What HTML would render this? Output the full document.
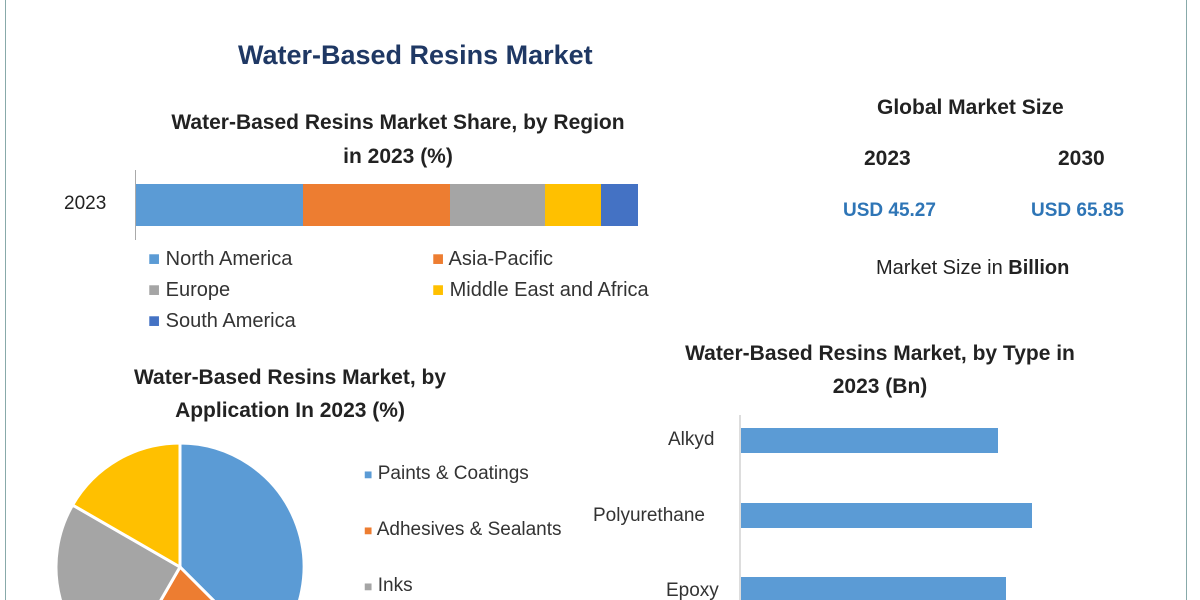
<!DOCTYPE html>
<html><head><meta charset="utf-8"><style>
html,body{margin:0;width:1200px;height:600px;overflow:hidden}
body{background:#fff;font-family:"Liberation Sans",sans-serif;position:relative}
.t{position:absolute;white-space:nowrap}
.b{font-weight:bold}
</style></head><body>
<div style="position:absolute;left:5px;top:0;width:1px;height:600px;background:#8aa"></div>
<div style="position:absolute;left:1186px;top:0;width:1px;height:600px;background:#8aa"></div>
<div class="t b" style="left:238px;top:40px;font-size:27px;color:#1f3864">Water-Based Resins Market</div>
<div class="t b" style="left:98px;top:106px;width:600px;text-align:center;font-size:21px;line-height:34px;color:#222">Water-Based Resins Market Share, by Region<br>in 2023 (%)</div>
<div class="t" style="left:64px;top:193px;font-size:19px;color:#222">2023</div>
<div style="position:absolute;left:135px;top:170px;width:1px;height:70px;background:#aaa"></div>
<div style="position:absolute;top:184px;height:42px;left:136px;width:167px;background:#5b9bd5"></div>
<div style="position:absolute;top:184px;height:42px;left:303px;width:147px;background:#ed7d31"></div>
<div style="position:absolute;top:184px;height:42px;left:450px;width:95px;background:#a5a5a5"></div>
<div style="position:absolute;top:184px;height:42px;left:545px;width:56px;background:#ffc000"></div>
<div style="position:absolute;top:184px;height:42px;left:601px;width:37px;background:#4472c4"></div>
<div class="t" style="left:148px;top:244px;font-size:20px;color:#333;line-height:31px">
<span style="color:#5b9bd5">■</span> North America<br><span style="color:#a5a5a5">■</span> Europe<br><span style="color:#4472c4">■</span> South America</div>
<div class="t" style="left:432px;top:244px;font-size:20px;color:#333;line-height:31px">
<span style="color:#ed7d31">■</span> Asia-Pacific<br><span style="color:#ffc000">■</span> Middle East and Africa</div>
<div class="t b" style="left:877px;top:96px;font-size:21px;color:#222">Global Market Size</div>
<div class="t b" style="left:864px;top:147px;font-size:21px;color:#222">2023</div>
<div class="t b" style="left:1058px;top:147px;font-size:21px;color:#222">2030</div>
<div class="t b" style="left:843px;top:200px;font-size:19px;color:#2e75b6">USD 45.27</div>
<div class="t b" style="left:1031px;top:200px;font-size:19px;color:#2e75b6">USD 65.85</div>
<div class="t" style="left:876px;top:257px;font-size:20px;color:#222">Market Size in <b>Billion</b></div>
<div class="t b" style="left:80px;top:361px;width:420px;text-align:center;font-size:21px;line-height:33px;color:#222">Water-Based Resins Market, by<br>Application In 2023 (%)</div>
<svg style="position:absolute;left:0;top:0" width="1200" height="600">
<g stroke="#fff" stroke-width="3">
<path d="M180,567 L180,443 A124,124 0 0 1 267.7,654.7 Z" fill="#5b9bd5"/>
<path d="M180,567 L267.7,654.7 A124,124 0 0 1 118,674.4 Z" fill="#ed7d31"/>
<path d="M180,567 L118,674.4 A124,124 0 0 1 72.6,505 Z" fill="#a5a5a5"/>
<path d="M180,567 L72.6,505 A124,124 0 0 1 180,443 Z" fill="#ffc000"/>
</g>
<line x1="740" y1="415" x2="740" y2="600" stroke="#bbb"/>
<rect x="741" y="428" width="257" height="25" fill="#5b9bd5"/>
<rect x="741" y="503" width="291" height="25" fill="#5b9bd5"/>
<rect x="741" y="577" width="265" height="25" fill="#5b9bd5"/>
</svg>
<div class="t" style="left:364px;top:460px;font-size:19px;color:#333;line-height:28px"><span style="color:#5b9bd5;font-size:14px">■</span> Paints &amp; Coatings</div>
<div class="t" style="left:364px;top:516px;font-size:19px;color:#333;line-height:28px"><span style="color:#ed7d31;font-size:14px">■</span> Adhesives &amp; Sealants</div>
<div class="t" style="left:364px;top:572px;font-size:19px;color:#333;line-height:28px"><span style="color:#a5a5a5;font-size:14px">■</span> Inks</div>
<div class="t b" style="left:640px;top:337px;width:480px;text-align:center;font-size:21px;line-height:33px;color:#222">Water-Based Resins Market, by Type in<br>2023 (Bn)</div>
<div class="t" style="left:668px;top:429px;font-size:19px;color:#333">Alkyd</div>
<div class="t" style="left:593px;top:505px;font-size:19px;color:#333">Polyurethane</div>
<div class="t" style="left:666px;top:580px;font-size:19px;color:#333">Epoxy</div>
</body></html>
